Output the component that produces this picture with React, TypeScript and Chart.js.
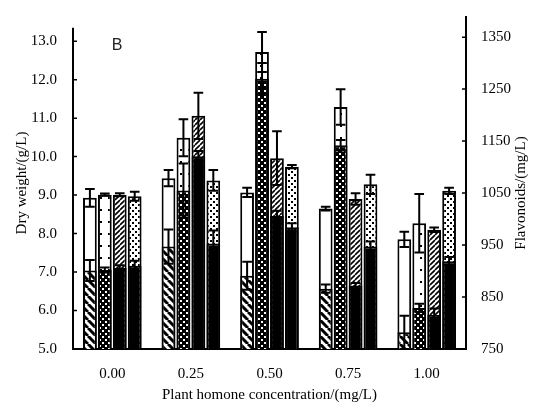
import React, { useEffect, useRef } from "react";
import { Chart, registerables } from "chart.js";
Chart.register(...registerables);

const categories = ["0.00", "0.25", "0.50", "0.75", "1.00"];

// Dry weight (g/L), left axis
const dryWeight1 = [8.93, 9.44, 9.07, 8.65, 7.85];
const dryWeight1Err = [0.23, 0.21, 0.12, 0.05, 0.2];
const dryWeight2 = [9.01, 10.49, 12.72, 11.29, 8.27];
const dryWeight2Err = [0.03, 0.48, 0.52, 0.46, 0.76];
const dryWeight3 = [9.01, 11.06, 9.96, 8.9, 8.1];
const dryWeight3Err = [0.04, 0.6, 0.7, 0.15, 0.06];
const dryWeight4 = [8.97, 9.38, 9.74, 9.28, 9.11];
const dryWeight4Err = [0.12, 0.27, 0.04, 0.25, 0.08];

// Flavonoids (mg/L), right axis
const flavonoids1 = [901, 947, 891, 866, 782];
const flavonoids1Err = [20, 33, 27, 8, 32];
const flavonoids2 = [902, 1055, 1270, 1142, 829];
const flavonoids2Err = [5, 52, 30, 10, 8];
const flavonoids3 = [906, 1121, 1006, 872, 816];
const flavonoids3Err = [5, 10, 10, 5, 12];
const flavonoids4 = [910, 953, 984, 947, 919];
const flavonoids4Err = [10, 25, 8, 10, 8];

const leftTicks = [5, 6, 7, 8, 9, 10, 11, 12, 13];
const rightTicks = [750, 850, 950, 1050, 1150, 1250, 1350];

const SERIF = "'Liberation Serif', 'DejaVu Serif', serif";

function makePattern(ctx: CanvasRenderingContext2D, w: number, h: number, draw: (g: CanvasRenderingContext2D) => void) {
  const c = document.createElement("canvas");
  c.width = w;
  c.height = h;
  const g = c.getContext("2d")!;
  g.fillStyle = "#fff";
  g.fillRect(0, 0, w, h);
  draw(g);
  return ctx.createPattern(c, "repeat")!;
}

export default function App() {
  const ref = useRef<HTMLCanvasElement | null>(null);
  useEffect(() => {
    const canvas = ref.current!;
    const ctx = canvas.getContext("2d")!;

    const backHatch = makePattern(ctx, 8, 8, (g) => {
      g.strokeStyle = "#000";
      g.lineWidth = 3;
      g.beginPath();
      for (const k of [-8, 0, 8]) {
        g.moveTo(k, 0);
        g.lineTo(k + 8, 8);
      }
      g.stroke();
    });
    const crossHatch = makePattern(ctx, 6, 6, (g) => {
      g.fillStyle = "#000";
      g.fillRect(0, 0, 6, 6);
      g.fillStyle = "#fff";
      g.fillRect(0, 0, 2, 2);
      g.fillRect(3, 3, 2, 2);
    });
    const sparseDots = makePattern(ctx, 8, 12, (g) => {
      g.fillStyle = "#000";
      g.fillRect(4, 5, 2, 2);
    });
    const fwdHatch = makePattern(ctx, 5, 5, (g) => {
      g.strokeStyle = "#000";
      g.lineWidth = 1.6;
      g.beginPath();
      for (const k of [-5, 0, 5]) {
        g.moveTo(k, 5);
        g.lineTo(k + 5, 0);
      }
      g.stroke();
    });
    const denseDots = makePattern(ctx, 6, 6, (g) => {
      g.fillStyle = "#000";
      g.fillRect(0, 0, 2, 2);
      g.fillRect(3, 3, 2, 2);
    });

    const mk = (label: string, data: number[], errors: number[], axis: string, stack: string, fill: any) => ({
      label,
      data,
      errors,
      yAxisID: axis,
      stack,
      backgroundColor: fill,
      borderColor: "#000",
      borderWidth: 2,
      categoryPercentage: 0.76,
      barPercentage: 0.92,
    });

    const datasets = [
      mk("Flavonoids 1", flavonoids1, flavonoids1Err, "y1", "s1", backHatch),
      mk("Flavonoids 2", flavonoids2, flavonoids2Err, "y1", "s2", crossHatch),
      mk("Flavonoids 3", flavonoids3, flavonoids3Err, "y1", "s3", "#000"),
      mk("Flavonoids 4", flavonoids4, flavonoids4Err, "y1", "s4", "#000"),
      mk("Dry weight 1", dryWeight1, dryWeight1Err, "y", "s1", "#fff"),
      mk("Dry weight 2", dryWeight2, dryWeight2Err, "y", "s2", sparseDots),
      mk("Dry weight 3", dryWeight3, dryWeight3Err, "y", "s3", fwdHatch),
      mk("Dry weight 4", dryWeight4, dryWeight4Err, "y", "s4", denseDots),
    ];

    const errorPlugin = {
      id: "errorBars",
      afterDatasetsDraw(chart: any) {
        const c = chart.ctx;
        chart.data.datasets.forEach((ds: any, i: number) => {
          const meta = chart.getDatasetMeta(i);
          const scale = chart.scales[ds.yAxisID];
          meta.data.forEach((el: any, j: number) => {
            const v = ds.data[j];
            const e = ds.errors[j];
            const x = el.x;
            const w = el.width * 0.7;
            const yt = scale.getPixelForValue(v + e);
            const yb = scale.getPixelForValue(v - e);
            c.save();
            c.strokeStyle = "#000";
            c.lineWidth = 2;
            c.beginPath();
            c.moveTo(x, yt);
            c.lineTo(x, yb);
            c.moveTo(x - w / 2, yt);
            c.lineTo(x + w / 2, yt);
            c.moveTo(x - w / 2, yb);
            c.lineTo(x + w / 2, yb);
            c.stroke();
            c.restore();
          });
        });
      },
    };

    const decorPlugin = {
      id: "decor",
      afterDraw(chart: any) {
        const c = chart.ctx;
        const area = chart.chartArea;
        const yl = chart.scales.y;
        const yr = chart.scales.y1;
        c.save();
        c.strokeStyle = "#000";
        c.lineWidth = 2;
        // left axis line
        c.beginPath();
        c.moveTo(area.left, yl.getPixelForValue(13.35));
        c.lineTo(area.left, area.bottom + 1);
        c.stroke();
        // inner tick marks
        c.lineWidth = 1.5;
        c.beginPath();
        for (const v of leftTicks) {
          const y = yl.getPixelForValue(v);
          c.moveTo(area.left, y);
          c.lineTo(area.left + 4, y);
        }
        for (const v of rightTicks) {
          const y = yr.getPixelForValue(v);
          c.moveTo(area.right, y);
          c.lineTo(area.right - 4, y);
        }
        c.stroke();
        // right title (reads bottom to top)
        c.fillStyle = "#000";
        c.font = `15px ${SERIF}`;
        c.textAlign = "center";
        c.textBaseline = "middle";
        c.translate(521, (area.top + area.bottom) / 2 + 10);
        c.rotate(-Math.PI / 2);
        c.fillText("Flavonoids/(mg/L)", 0, 0);
        c.restore();
        // panel label
        c.save();
        c.fillStyle = "#222";
        c.font = "16px 'Liberation Sans', Arial, sans-serif";
        c.textAlign = "center";
        c.textBaseline = "middle";
        c.fillText("B", 117, 46);
        c.restore();
      },
    };

    const chart = new Chart(canvas, {
      type: "bar",
      data: { labels: categories, datasets: datasets as any },
      plugins: [errorPlugin, decorPlugin],
      options: {
        animation: false,
        responsive: false,
        layout: { padding: { top: 6, left: 0, right: 0, bottom: 0 } },
        plugins: { legend: { display: false }, tooltip: { enabled: false } },
        scales: {
          x: {
            grid: { display: false },
            border: { display: true, color: "#000", width: 2 },
            ticks: { color: "#000", font: { family: SERIF, size: 15 }, padding: 8 },
            title: {
              display: true,
              text: "Plant homone concentration/(mg/L)",
              color: "#000",
              font: { family: SERIF, size: 15 },
              padding: { top: 0, bottom: 0 },
            },
            afterFit(s: any) {
              s.height = 55;
            },
          },
          y: {
            position: "left",
            min: 5,
            max: 5 + 343 / 39.75,
            stacked: false,
            grid: { display: false },
            border: { display: false },
            ticks: {
              color: "#000",
              font: { family: SERIF, size: 15 },
              padding: 8,
              callback: (v: any) => Number(v).toFixed(1),
            },
            afterBuildTicks(s: any) {
              s.ticks = leftTicks.map((v) => ({ value: v }));
            },
            title: {
              display: true,
              text: "Dry weight/(g/L)",
              color: "#000",
              font: { family: SERIF, size: 15 },
              padding: { top: 13, bottom: 0 },
            },
            afterFit(s: any) {
              s.width = 73;
            },
          },
          y1: {
            position: "right",
            min: 750,
            max: 750 + 343 / 0.537,
            stacked: false,
            grid: { display: false },
            border: { display: true, color: "#000", width: 2 },
            ticks: {
              color: "#000",
              font: { family: SERIF, size: 15 },
              padding: 7,
              callback: (v: any) => String(v),
            },
            afterBuildTicks(s: any) {
              s.ticks = rightTicks.map((v) => ({ value: v }));
            },
            afterFit(s: any) {
              s.width = 76;
            },
          },
        },
      } as any,
    });
    return () => chart.destroy();
  }, []);

  return (
    <div style={{ position: "fixed", left: 0, top: 0, width: 542, height: 404, background: "#fff" }}>
      <canvas ref={ref} width={542} height={404} style={{ width: 542, height: 404, display: "block" }} />
    </div>
  );
}
